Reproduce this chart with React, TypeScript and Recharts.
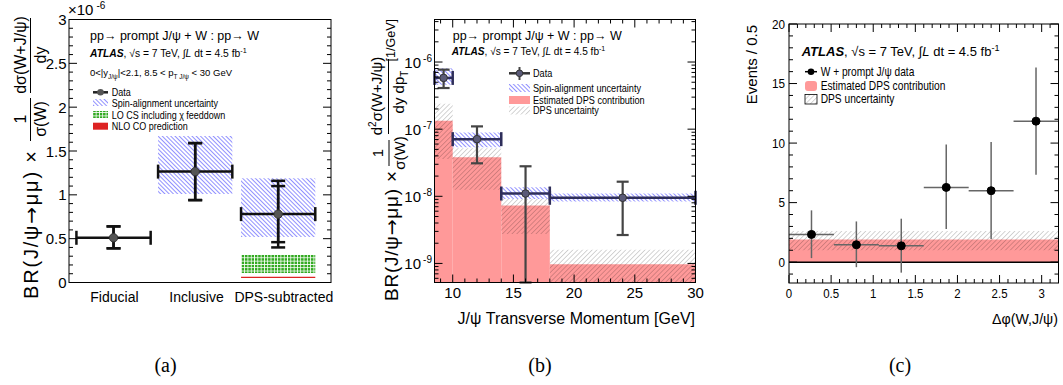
import React from 'react';
import { ComposedChart, XAxis, YAxis, Scatter, ErrorBar, ReferenceArea, ReferenceLine } from 'recharts';

const FONT = '"Liberation Sans", Arial, Helvetica, sans-serif';
const SERIF = '"Liberation Serif", "DejaVu Serif", serif';
const W = 1063;
const H = 385;

// ---------------- Panel (a) ----------------
const aCategories = ['Fiducial', 'Inclusive', 'DPS-subtracted'];
const aCatX = [0.51, 1.445, 2.395];
const aLabelX = [0.52, 1.46, 2.46];
const aHalfWidth = [0.425, 0.425, 0.425];
const aValues = [0.51, 1.265, 0.78];
const aTotLow = [0.39, 0.94, 0.4];
const aTotHigh = [0.64, 1.59, 1.16];
const aStatLow = [0.39, 0.94, 0.46];
const aStatHigh = [0.64, 1.59, 1.1];
const aSpinLow = [null, 1.01, 0.52];
const aSpinHigh = [null, 1.67, 1.19];
const aLoCsLow = [null, null, 0.107];
const aLoCsHigh = [null, null, 0.315];
const aNloCoLow = [null, null, 0.05];
const aNloCoHigh = [null, null, 0.066];
const aYTicks = [0, 0.1, 0.2, 0.3, 0.4, 0.5, 0.6, 0.7, 0.8, 0.9, 1, 1.1, 1.2, 1.3, 1.4, 1.5, 1.6, 1.7, 1.8, 1.9, 2, 2.1, 2.2, 2.3, 2.4, 2.5, 2.6, 2.7, 2.8, 2.9, 3];

// ---------------- Panel (b) ----------------
const bBinLo = [8.5, 10, 14, 18];
const bBinHi = [10, 14, 18, 30];
const bDataX = [9.25, 12, 16, 24];
const bData = [5.8e-7, 7.1e-8, 1.1e-8, 9.5e-9];
const bDataLow = [4.1e-7, 3.1e-8, 5.2e-10, 2.65e-9];
const bDataHigh = [7.7e-7, 1.1e-7, 2.8e-8, 1.65e-8];
const bSpinLow = [4.6e-7, 5.4e-8, 9.1e-9, 8.4e-9];
const bSpinHigh = [8.1e-7, 8.9e-8, 1.36e-8, 1.1e-8];
const bDps = [1.33e-7, 3.8e-8, 7.3e-9, 9.7e-10];
const bDpsLow = [3.6e-8, 1.25e-8, 2.75e-9, 4e-10];
const bDpsHigh = [2.4e-7, 5.2e-8, 9.1e-9, 1.6e-9];
const bYDomain = [5.2e-10, 4.3e-6];
const bXTicks = [9, 10, 11, 12, 13, 14, 15, 16, 17, 18, 19, 20, 21, 22, 23, 24, 25, 26, 27, 28, 29, 30];
const bXMajor = [10, 15, 20, 25, 30];
const bYTicks = [6e-10, 7e-10, 8e-10, 9e-10, 1e-9, 2e-9, 3e-9, 4e-9, 5e-9, 6e-9, 7e-9, 8e-9, 9e-9, 1e-8, 2e-8, 3e-8, 4e-8, 5e-8, 6e-8, 7e-8, 8e-8, 9e-8, 1e-7, 2e-7, 3e-7, 4e-7, 5e-7, 6e-7, 7e-7, 8e-7, 9e-7, 1e-6, 2e-6, 3e-6, 4e-6];

// ---------------- Panel (c) ----------------
const cBinCenters = [0.267, 0.8, 1.333, 1.867, 2.4, 2.933];
const cBinHalf = [0.2667, 0.2667, 0.2667, 0.2667, 0.2667, 0.2667];
const cEvents = [2.33, 1.46, 1.37, 6.28, 6.0, 11.84];
const cLow = [0.34, -0.42, -0.88, 2.78, 1.94, 7.35];
const cHigh = [4.35, 3.42, 3.65, 9.88, 10.1, 16.34];
const cDps = [1.9];
const cDpsLow = [1.0];
const cDpsHigh = [2.62];
const cXTicks = [0, 0.1, 0.2, 0.3, 0.4, 0.5, 0.6, 0.7, 0.8, 0.9, 1, 1.1, 1.2, 1.3, 1.4, 1.5, 1.6, 1.7, 1.8, 1.9, 2, 2.1, 2.2, 2.3, 2.4, 2.5, 2.6, 2.7, 2.8, 2.9, 3, 3.1];
const cYTicks = [-1, 0, 1, 2, 3, 4, 5, 6, 7, 8, 9, 10, 11, 12, 13, 14, 15, 16, 17, 18, 19, 20];

// plot-area layout
const A = { l: 69, r: 331, t: 19.5, b: 282.5 };
const B = { l: 434.5, r: 695.5, t: 19.5, b: 282.5 };
const C = { l: 789, r: 1058.5, t: 24, b: 283 };
const YW = 40;
const XH = 30;
const margin = (p: any) => ({ top: p.t, bottom: H - p.b - XH, left: p.l - YW, right: W - p.r });

const RED = '#ff9999';

const aPoints = aCategories.map((c, i) => ({
  x: aCatX[i], y: aValues[i], ex: aHalfWidth[i],
  eyTot: [aValues[i] - aTotLow[i], aTotHigh[i] - aValues[i]],
  eyStat: [aValues[i] - aStatLow[i], aStatHigh[i] - aValues[i]],
}));
const bPoints = bData.map((v, i) => ({
  x: bDataX[i], y: v, ex: [bDataX[i] - bBinLo[i], bBinHi[i] - bDataX[i]],
  ey: [v - bDataLow[i], bDataHigh[i] - v],
}));
const cPoints = cEvents.map((v, i) => ({
  x: cBinCenters[i], y: v, ex: cBinHalf[i], ey: [v - cLow[i], cHigh[i] - v],
}));

const near = (a: number, b: number) => Math.abs(a - b) < 1e-6;

function T(props: any) {
  const { x, y, size, anchor = 'start', sx = 1, children, weight, italic, family = FONT, fill = '#000' } = props;
  return (
    <text transform={`translate(${x},${y}) scale(${sx},1)`} fontSize={size} textAnchor={anchor}
      fontWeight={weight} fontStyle={italic ? 'italic' : undefined} fontFamily={family} fill={fill}>
      {children}
    </text>
  );
}
function RT(props: any) {
  const { x, y, size, anchor = 'start', children, len } = props;
  return (
    <text transform={`translate(${x},${y}) rotate(-90)`} fontSize={size} textAnchor={anchor} fontFamily={FONT} fill="#000"
      textLength={len} lengthAdjust={len ? 'spacing' : undefined}>
      {children}
    </text>
  );
}
const BrText = () => (
  <>
    <tspan>BR(J/ψ</tspan>
    <tspan fontFamily='"DejaVu Sans", sans-serif'>→</tspan>
    <tspan>μμ) ×</tspan>
  </>
);
function Atlas(props: any) {
  const { x, y, size, sx = 1 } = props;
  return (
    <T x={x} y={y} size={size} sx={sx}>
      <tspan fontWeight="bold" fontStyle="italic">ATLAS</tspan>
      <tspan>, √s = 7 TeV, ∫</tspan>
      <tspan fontStyle="italic">L</tspan>
      <tspan> dt = 4.5 fb</tspan>
      <tspan fontSize={size * 0.7} dy={-size * 0.35}>-1</tspan>
    </T>
  );
}
const Frame = ({ p }: any) => (
  <rect x={p.l} y={p.t} width={p.r - p.l} height={p.b - p.t} fill="none" stroke="#000" strokeWidth={1} />
);

// ---------- ticks ----------
const aYTick = (props: any) => {
  const { x, y, payload } = props;
  const v = payload.value;
  const major = near(v * 2, Math.round(v * 2));
  const len = major ? 8 : 4;
  return (
    <g>
      <line x1={x} x2={x + len} y1={y} y2={y} stroke="#000" />
      <line x1={A.r - len} x2={A.r} y1={y} y2={y} stroke="#000" />
      {major && (
        <text x={x - 2.5} y={y + 5.5} textAnchor="end" fontSize={15} fontFamily={FONT}>{String(v)}</text>
      )}
    </g>
  );
};
const aXTick = (props: any) => {
  const { x, y, payload } = props;
  const idx = aLabelX.findIndex((t) => near(t, payload.value));
  return (
    <text x={x} y={y + 19.5} textAnchor="middle" fontSize={14} fontFamily={FONT}>{aCategories[idx]}</text>
  );
};
const bYTick = (props: any) => {
  const { x, y, payload } = props;
  const v = payload.value;
  const exp = Math.round(Math.log10(v));
  const major = near(v / Math.pow(10, exp), 1);
  const len = major ? 8 : 4;
  return (
    <g>
      <line x1={x} x2={x + len} y1={y} y2={y} stroke="#000" />
      <line x1={B.r - len} x2={B.r} y1={y} y2={y} stroke="#000" />
      {major && (
        <g>
          <text x={x - 13.5} y={y + 5.5} textAnchor="end" fontSize={15} fontFamily={FONT}>10</text>
          <text x={x - 2.5} y={y - 0.5} textAnchor="end" fontSize={10} fontFamily={FONT}>{String(exp)}</text>
        </g>
      )}
    </g>
  );
};
const bXTick = (props: any) => {
  const { x, y, payload } = props;
  const v = payload.value;
  const major = bXMajor.some((m) => near(m, v));
  const len = major ? 8 : 4;
  return (
    <g>
      <line x1={x} x2={x} y1={y} y2={y - len} stroke="#000" />
      <line x1={x} x2={x} y1={B.t} y2={B.t + len} stroke="#000" />
      {major && (
        <text x={x} y={y + 15} textAnchor="middle" fontSize={15} fontFamily={FONT}>{String(v)}</text>
      )}
    </g>
  );
};
const cYTick = (props: any) => {
  const { x, y, payload } = props;
  const v = payload.value;
  const major = near(v / 5, Math.round(v / 5));
  const len = major ? 8 : 4;
  return (
    <g>
      <line x1={x} x2={x + len} y1={y} y2={y} stroke="#000" />
      <line x1={C.r - len} x2={C.r} y1={y} y2={y} stroke="#000" />
      {major && <T x={x - 4} y={y + 4.7} size={13} sx={0.9} anchor="end">{String(v)}</T>}
    </g>
  );
};
const cXTick = (props: any) => {
  const { x, y, payload } = props;
  const v = payload.value;
  const major = near(v * 2, Math.round(v * 2));
  const len = major ? 8 : 4;
  return (
    <g>
      <line x1={x} x2={x} y1={y} y2={y - len} stroke="#000" />
      <line x1={x} x2={x} y1={C.t} y2={C.t + len} stroke="#000" />
      {major && <T x={x} y={y + 15} size={13} sx={0.88} anchor="middle">{String(v)}</T>}
    </g>
  );
};

const dot = (fill: string, stroke: string, r: number) => (props: any) => (
  <circle cx={props.cx} cy={props.cy} r={r} fill={fill} stroke={stroke} strokeWidth={1} />
);

const Patterns = () => (
  <svg width={0} height={0} style={{ position: 'absolute' }}>
    <defs>
      <pattern id="blueHatch" patternUnits="userSpaceOnUse" width={3} height={10} patternTransform="rotate(-45)">
        <line x1={0} y1={0} x2={0} y2={10} stroke="#3434ff" strokeWidth={1.1} />
      </pattern>
      <pattern id="grayHatch" patternUnits="userSpaceOnUse" width={3.4} height={10} patternTransform="rotate(45)">
        <line x1={0} y1={0} x2={0} y2={10} stroke="rgba(0,0,0,0.45)" strokeWidth={0.8} />
      </pattern>
      <pattern id="greenGrid" patternUnits="userSpaceOnUse" width={3.3} height={3.3}>
        <rect x={0} y={0} width={3.3} height={3.3} fill="#33aa22" />
        <line x1={0} y1={0.4} x2={3.3} y2={0.4} stroke="#ffffff" strokeWidth={0.8} />
        <line x1={0.4} y1={0} x2={0.4} y2={3.3} stroke="#ffffff" strokeWidth={0.8} />
      </pattern>
    </defs>
  </svg>
);

const abs: React.CSSProperties = { position: 'absolute', left: 0, top: 0 };

function PanelA() {
  return (
    <div style={abs}>
      <ComposedChart width={W} height={H} margin={margin(A)}>
        <XAxis type="number" dataKey="x" domain={[0, 3]} ticks={aLabelX} interval={0} height={XH}
          tickSize={0} tickMargin={0} axisLine={false} tickLine={false} tick={aXTick} allowDataOverflow />
        <YAxis type="number" dataKey="y" domain={[0, 3]} ticks={aYTicks} interval={0} width={YW}
          tickSize={0} tickMargin={0} axisLine={false} tickLine={false} tick={aYTick} allowDataOverflow />
        {aCatX.map((cx, i) => aSpinLow[i] !== null ? (
          <ReferenceArea key={'s' + i} x1={cx - aHalfWidth[i]} x2={cx + aHalfWidth[i]} y1={aSpinLow[i] as number}
            y2={aSpinHigh[i] as number} fill="url(#blueHatch)" fillOpacity={1} stroke="none" ifOverflow="hidden" />
        ) : null)}
        {aCatX.map((cx, i) => aLoCsLow[i] !== null ? (
          <ReferenceArea key={'g' + i} x1={cx - aHalfWidth[i]} x2={cx + aHalfWidth[i]} y1={aLoCsLow[i] as number}
            y2={aLoCsHigh[i] as number} fill="url(#greenGrid)" fillOpacity={1} stroke="none" ifOverflow="hidden" />
        ) : null)}
        {aCatX.map((cx, i) => aNloCoLow[i] !== null ? (
          <ReferenceArea key={'r' + i} x1={cx - aHalfWidth[i]} x2={cx + aHalfWidth[i]} y1={aNloCoLow[i] as number}
            y2={aNloCoHigh[i] as number} fill="#dd2222" fillOpacity={1} stroke="none" ifOverflow="hidden" />
        ) : null)}
        <Scatter data={aPoints} dataKey="y" isAnimationActive={false} shape={dot('#555', '#333', 4.2)}>
          <ErrorBar dataKey="ex" direction="x" width={7} stroke="#111" strokeWidth={2.5} isAnimationActive={false} />
          <ErrorBar dataKey="eyTot" direction="y" width={7} stroke="#111" strokeWidth={2.5} isAnimationActive={false} />
          <ErrorBar dataKey="eyStat" direction="y" width={7} stroke="#111" strokeWidth={2.5} isAnimationActive={false} />
        </Scatter>
      </ComposedChart>
    </div>
  );
}

function PanelB() {
  return (
    <div style={abs}>
      <ComposedChart width={W} height={H} margin={margin(B)}>
        <XAxis type="number" dataKey="x" domain={[8.5, 30]} ticks={bXTicks} interval={0} height={XH}
          tickSize={0} tickMargin={0} axisLine={false} tickLine={false} tick={bXTick} allowDataOverflow />
        <YAxis type="number" dataKey="y" scale="log" domain={bYDomain} ticks={bYTicks} interval={0} width={YW}
          tickSize={0} tickMargin={0} axisLine={false} tickLine={false} tick={bYTick} allowDataOverflow />
        {bBinLo.map((lo, i) => (
          <ReferenceArea key={'d' + i} x1={lo} x2={bBinHi[i]} y1={bYDomain[0]} y2={bDps[i]}
            fill={RED} fillOpacity={1} stroke="none" ifOverflow="hidden" />
        ))}
        {bBinLo.map((lo, i) => (
          <ReferenceArea key={'u' + i} x1={lo} x2={bBinHi[i]} y1={Math.max(bDpsLow[i], bYDomain[0])} y2={bDpsHigh[i]}
            fill="url(#grayHatch)" fillOpacity={1} stroke="none" ifOverflow="hidden" />
        ))}
        {bBinLo.map((lo, i) => (
          <ReferenceArea key={'s' + i} x1={lo} x2={bBinHi[i]} y1={bSpinLow[i]} y2={bSpinHigh[i]}
            fill="url(#blueHatch)" fillOpacity={1} stroke="none" ifOverflow="hidden" />
        ))}
        <Scatter data={bPoints} dataKey="y" isAnimationActive={false} shape={dot('#5a5a78', '#333', 3.8)}>
          <ErrorBar dataKey="ex" direction="x" width={7} stroke="#2e2e5a" strokeWidth={2.5} isAnimationActive={false} />
          <ErrorBar dataKey="ey" direction="y" width={6} stroke="#444" strokeWidth={2.2} isAnimationActive={false} />
        </Scatter>
      </ComposedChart>
    </div>
  );
}

function PanelC() {
  return (
    <div style={abs}>
      <ComposedChart width={W} height={H} margin={margin(C)}>
        <XAxis type="number" dataKey="x" domain={[0, 3.2]} ticks={cXTicks} interval={0} height={XH}
          tickSize={0} tickMargin={0} axisLine={false} tickLine={false} tick={cXTick} allowDataOverflow />
        <YAxis type="number" dataKey="y" domain={[-1.75, 20]} ticks={cYTicks} interval={0} width={YW}
          tickSize={0} tickMargin={0} axisLine={false} tickLine={false} tick={cYTick} allowDataOverflow />
        {cDps.map((v, i) => (
          <ReferenceArea key={'d' + i} x1={0} x2={3.2} y1={0} y2={v} fill={RED} fillOpacity={1} stroke="none" ifOverflow="hidden" />
        ))}
        {cDps.map((v, i) => (
          <ReferenceArea key={'u' + i} x1={0} x2={3.2} y1={cDpsLow[i]} y2={cDpsHigh[i]} fill="url(#grayHatch)"
            fillOpacity={1} stroke="none" ifOverflow="hidden" />
        ))}
        <ReferenceLine y={0} stroke="#000" strokeWidth={1.5} ifOverflow="hidden" />
        <Scatter data={cPoints} dataKey="y" isAnimationActive={false} shape={dot('#000', '#000', 4)}>
          <ErrorBar dataKey="ex" direction="x" width={0} stroke="#666" strokeWidth={1.5} isAnimationActive={false} />
          <ErrorBar dataKey="ey" direction="y" width={0} stroke="#666" strokeWidth={1.5} isAnimationActive={false} />
        </Scatter>
      </ComposedChart>
    </div>
  );
}

function Overlay() {
  return (
    <svg width={W} height={H} style={{ ...abs, pointerEvents: 'none' }}>
      <Frame p={A} />
      <Frame p={B} />
      <Frame p={C} />

      {/* ---- panel (a) text ---- */}
      <T x={68} y={14.5} size={15}>×10</T>
      <T x={96.5} y={9} size={10}>-6</T>
      <RT x={37.5} y={299} size={20} len={148}><BrText /></RT>
      <RT x={25.5} y={119} size={16} anchor="middle">1</RT>
      <line x1={30.5} x2={30.5} y1={98} y2={141} stroke="#000" strokeWidth={1} />
      <RT x={46} y={119} size={16} anchor="middle">σ(W)</RT>
      <RT x={25.5} y={55} size={16} anchor="middle">dσ(W+J/ψ)</RT>
      <line x1={30.5} x2={30.5} y1={18} y2={93} stroke="#000" strokeWidth={1} />
      <RT x={46} y={55} size={16} anchor="middle">dy</RT>

      <T x={90} y={39.5} size={12.5}>pp→ prompt J/ψ + W : pp→ W</T>
      <Atlas x={90} y={56.5} size={10.3} />
      <T x={90} y={76} size={9.5}>
        <tspan>0&lt;|y</tspan>
        <tspan fontSize={6.5} dy={2.5}>J/ψ</tspan>
        <tspan dy={-2.5}>|&lt;2.1, 8.5 &lt; p</tspan>
        <tspan fontSize={6.5} dy={2.5}>T  J/ψ</tspan>
        <tspan dy={-2.5}>  &lt; 30 GeV</tspan>
      </T>
      <line x1={93} x2={108} y1={92.3} y2={92.3} stroke="#222" strokeWidth={2.5} />
      <circle cx={100.5} cy={92.3} r={3.3} fill="#555" />
      <rect x={93} y={99} width={15} height={7} fill="url(#blueHatch)" />
      <rect x={93} y={111} width={15} height={7} fill="url(#greenGrid)" />
      <rect x={93} y={122.7} width={15} height={7} fill="#dd2222" />
      <T x={111.7} y={95.8} size={10} sx={0.9}>Data</T>
      <T x={111.7} y={106.5} size={10} sx={0.9}>Spin-alignment uncertainty</T>
      <T x={111.7} y={118.5} size={10} sx={0.9}>LO CS including χ feeddown</T>
      <T x={111.7} y={130} size={10} sx={0.9}>NLO CO prediction</T>

      {/* ---- panel (b) text ---- */}
      <RT x={398} y={301} size={19} len={130}><BrText /></RT>
      <RT x={383} y={153} size={15} anchor="middle">1</RT>
      <line x1={389} x2={389} y1={140} y2={166} stroke="#000" strokeWidth={1} />
      <RT x={405} y={153} size={15} anchor="middle">σ(W)</RT>
      <RT x={382} y={96} size={15} anchor="middle">
        <tspan>d</tspan>
        <tspan fontSize={10} dy={-6}>2</tspan>
        <tspan dy={6}>σ(W+J/ψ)</tspan>
      </RT>
      <line x1={388.5} x2={388.5} y1={59} y2={134} stroke="#000" strokeWidth={1} />
      <RT x={404} y={92} size={15} anchor="middle">
        <tspan>dy dp</tspan>
        <tspan fontSize={10} dy={4}>T</tspan>
      </RT>
      <RT x={395} y={19} size={12.5} anchor="end">[1/GeV]</RT>
      <T x={695} y={324} size={16} anchor="end">J/ψ Transverse Momentum [GeV]</T>

      <T x={452.7} y={39.5} size={12.5}>pp→ prompt J/ψ + W : pp→ W</T>
      <Atlas x={451.7} y={55} size={10.1} />
      <line x1={509} x2={530} y1={73.3} y2={73.3} stroke="#333" strokeWidth={2.5} />
      <line x1={519.5} x2={519.5} y1={67} y2={80} stroke="#444" strokeWidth={2} />
      <circle cx={519.5} cy={73.3} r={3.3} fill="#5a5a78" stroke="#333" />
      <rect x={509} y={84} width={21} height={8} fill="url(#blueHatch)" />
      <rect x={509} y={96} width={21} height={8} fill={RED} />
      <rect x={509} y={106.5} width={21} height={8} fill="url(#grayHatch)" />
      <T x={533} y={77} size={10.5} sx={0.87}>Data</T>
      <T x={533} y={92} size={10.5} sx={0.87}>Spin-alignment uncertainty</T>
      <T x={533} y={104} size={10.5} sx={0.87}>Estimated DPS contribution</T>
      <T x={533} y={114} size={10.5} sx={0.87}>DPS uncertainty</T>

      {/* ---- panel (c) text ---- */}
      <RT x={757} y={25} size={15} anchor="end">Events / 0.5</RT>
      <T x={1058} y={324} size={15} anchor="end" sx={0.95}>Δφ(W,J/ψ)</T>
      <Atlas x={801.7} y={56} size={13} sx={1.0} />
      <line x1={805} x2={817} y1={71.7} y2={71.7} stroke="#000" strokeWidth={1.5} />
      <circle cx={811} cy={71.7} r={3.3} fill="#000" />
      <rect x={805} y={81} width={12} height={10} rx={3} fill={RED} />
      <rect x={805} y={94.5} width={12} height={9.5} fill="url(#grayHatch)" stroke="#000" strokeWidth={0.8} />
      <T x={820.7} y={75.7} size={12} sx={0.85}>W + prompt J/ψ data</T>
      <T x={820.7} y={90} size={12} sx={0.85}>Estimated DPS contribution</T>
      <T x={820.7} y={103} size={12} sx={0.85}>DPS uncertainty</T>

      {/* ---- captions ---- */}
      <T x={165.5} y={372} size={20} anchor="middle" family={SERIF}>(a)</T>
      <T x={540} y={372} size={20} anchor="middle" family={SERIF}>(b)</T>
      <T x={900} y={372} size={20} anchor="middle" family={SERIF}>(c)</T>
    </svg>
  );
}

export default function App() {
  return (
    <div style={{ position: 'absolute', left: 0, top: 0, width: W, height: H, background: '#fff', overflow: 'hidden' }}>
      <Patterns />
      <PanelA />
      <PanelB />
      <PanelC />
      <Overlay />
    </div>
  );
}
